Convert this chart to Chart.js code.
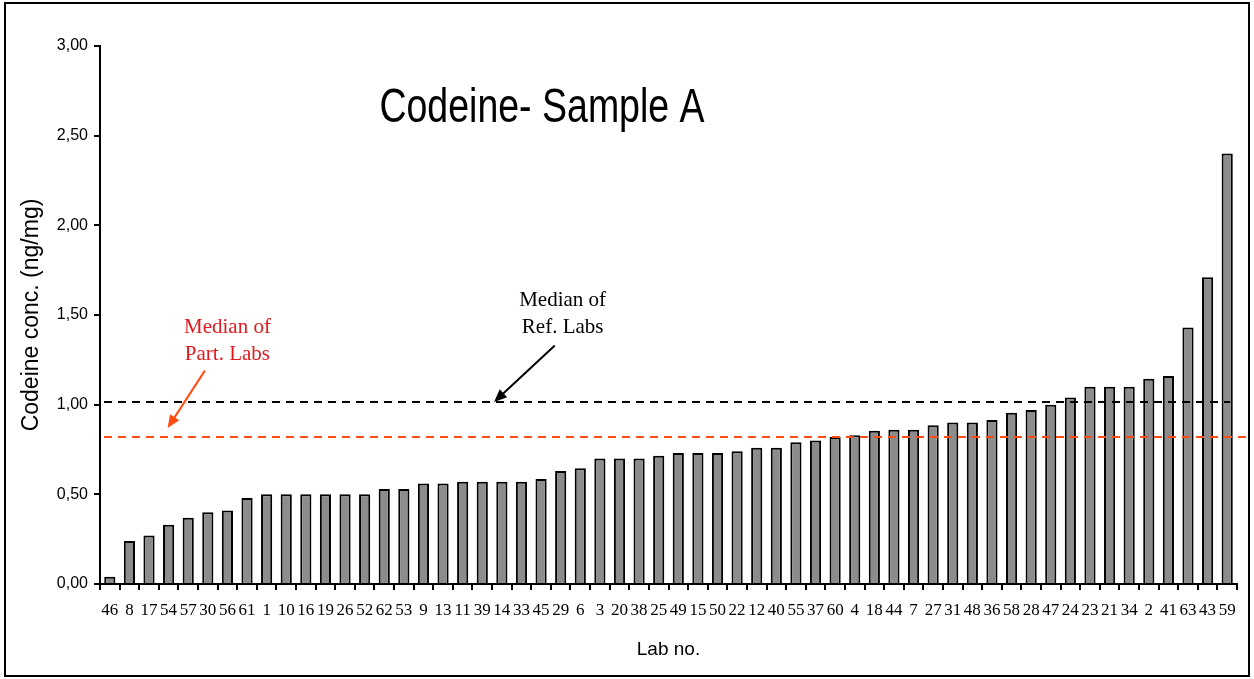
<!DOCTYPE html>
<html>
<head>
<meta charset="utf-8">
<script src="https://cdn.jsdelivr.net/npm/chart.js@4.4.1/dist/chart.umd.min.js"></script>
<style>
  html, body { margin: 0; padding: 0; background: #fff; }
</style>
</head>
<body>
<canvas id="chart" width="1254" height="679"></canvas>
<script>
const labs = ['46','8','17','54','57','30','56','61','1','10','16','19','26','52','62','53','9','13','11','39',
  '14','33','45','29','6','3','20','38','25','49','15','50','22','12','40','55','37','60','4','18',
  '44','7','27','31','48','36','58','28','47','24','23','21','34','2','41','63','43','59'];
const codeine = [0.04,0.24,0.27,0.33,0.37,0.40,0.41,0.48,0.50,0.50,0.50,0.50,0.50,0.50,0.53,0.53,0.56,0.56,0.57,0.57,
  0.57,0.57,0.585,0.63,0.645,0.70,0.70,0.70,0.715,0.73,0.73,0.73,0.74,0.76,0.76,0.79,0.80,0.82,0.83,0.855,
  0.86,0.86,0.885,0.90,0.90,0.915,0.955,0.97,1.00,1.04,1.10,1.10,1.10,1.145,1.16,1.43,1.71,2.40];
const medianRef = 1.015;
const medianPart = 0.82;
const yTicks = [0, 0.5, 1, 1.5, 2, 2.5, 3];

// draws frame, title, median lines and the two annotations
const extras = {
  id: 'extras',
  afterDatasetsDraw(chart) {
    const ctx = chart.ctx, x = chart.scales.x, y = chart.scales.y, a = chart.chartArea;
    ctx.save();
    // median lines
    ctx.lineWidth = 2;
    ctx.setLineDash([8, 6]);
    ctx.strokeStyle = '#000';
    ctx.beginPath();
    ctx.moveTo(a.left + 4, y.getPixelForValue(medianRef));
    ctx.lineTo(x.getPixelForValue(57) + 3, y.getPixelForValue(medianRef));
    ctx.stroke();
    ctx.strokeStyle = '#ff4d12';
    ctx.beginPath();
    ctx.moveTo(a.left + 4, y.getPixelForValue(medianPart));
    ctx.lineTo(a.right + 10, y.getPixelForValue(medianPart));
    ctx.stroke();
    ctx.setLineDash([]);

    // title (the original is stretched a bit vertically)
    ctx.fillStyle = '#000';
    ctx.textAlign = 'center';
    ctx.textBaseline = 'alphabetic';
    ctx.save();
    ctx.translate(542, 122);
    ctx.scale(1, 1.3);
    ctx.font = '37.5px "Liberation Sans", Arial, sans-serif';
    ctx.fillText('Codeine- Sample A', 0, 0);
    ctx.restore();

    // annotations
    ctx.textBaseline = 'middle';
    ctx.font = '21px "Liberation Serif", "Times New Roman", serif';
    ctx.fillStyle = '#e0191e';
    ctx.fillText('Median of', x.getPixelForValue(6), y.getPixelForValue(1.43));
    ctx.fillText('Part. Labs', x.getPixelForValue(6), y.getPixelForValue(1.28));
    ctx.fillStyle = '#000';
    ctx.fillText('Median of', x.getPixelForValue(23.1), y.getPixelForValue(1.58));
    ctx.fillText('Ref. Labs', x.getPixelForValue(23.1), y.getPixelForValue(1.43));

    function arrow(x0, y0, x1, y1, color) {
      const ang = Math.atan2(y1 - y0, x1 - x0);
      ctx.strokeStyle = color; ctx.fillStyle = color; ctx.lineWidth = 2;
      ctx.beginPath();
      ctx.moveTo(x0, y0);
      ctx.lineTo(x1 - 10 * Math.cos(ang), y1 - 10 * Math.sin(ang));
      ctx.stroke();
      ctx.beginPath();
      ctx.moveTo(x1, y1);
      ctx.lineTo(x1 - 14 * Math.cos(ang - 0.4), y1 - 14 * Math.sin(ang - 0.4));
      ctx.lineTo(x1 - 14 * Math.cos(ang + 0.4), y1 - 14 * Math.sin(ang + 0.4));
      ctx.closePath();
      ctx.fill();
    }
    arrow(x.getPixelForValue(4.85), y.getPixelForValue(1.19), x.getPixelForValue(2.95), y.getPixelForValue(0.87), '#ff4d12');
    arrow(x.getPixelForValue(22.7), y.getPixelForValue(1.33), x.getPixelForValue(19.6), y.getPixelForValue(1.015), '#000');

    // outer frame
    ctx.strokeStyle = '#000';
    ctx.lineWidth = 2;
    ctx.strokeRect(5, 3, 1244, 673);
    ctx.restore();
  }
};

new Chart(document.getElementById('chart'), {
  type: 'bar',
  data: {
    labels: labs,
    datasets: [{
      data: codeine,
      backgroundColor: '#8c8c8c',
      borderColor: '#000',
      borderWidth: 2,
      barPercentage: 0.57,
      categoryPercentage: 1
    }]
  },
  options: {
    responsive: false,
    animation: false,
    devicePixelRatio: 1,
    layout: { padding: { left: 14, right: 17, top: 46, bottom: 14 } },
    plugins: { legend: { display: false }, tooltip: { enabled: false } },
    scales: {
      x: {
        afterFit(s) { s.height = 81; },
        grid: { display: true, drawOnChartArea: false, offset: true, tickLength: 6, color: '#000', lineWidth: 2 },
        border: { color: '#000', width: 2 },
        ticks: { color: '#000', maxRotation: 0, autoSkip: false, padding: 10,
          font: { family: '"Liberation Serif", "Times New Roman", serif', size: 17 } },
        title: { display: true, text: 'Lab no.', color: '#000',
          font: { family: '"Liberation Sans", Arial, sans-serif', size: 19 } }
      },
      y: {
        min: 0, max: 3,
        afterFit(s) { s.width = 86; },
        afterBuildTicks(s) { s.ticks = yTicks.map(v => ({ value: v })); },
        grid: { drawOnChartArea: false, tickLength: 6, color: '#000', lineWidth: 2 },
        border: { color: '#000', width: 2 },
        ticks: { color: '#000', padding: 6,
          callback: v => v.toFixed(2).replace('.', ','),
          font: { family: '"Liberation Sans", Arial, sans-serif', size: 16 } },
        title: { display: true, text: 'Codeine conc. (ng/mg)', color: '#000',
          font: { family: '"Liberation Sans", Arial, sans-serif', size: 23 } }
      }
    }
  },
  plugins: [extras]
});
</script>
</body>
</html>
